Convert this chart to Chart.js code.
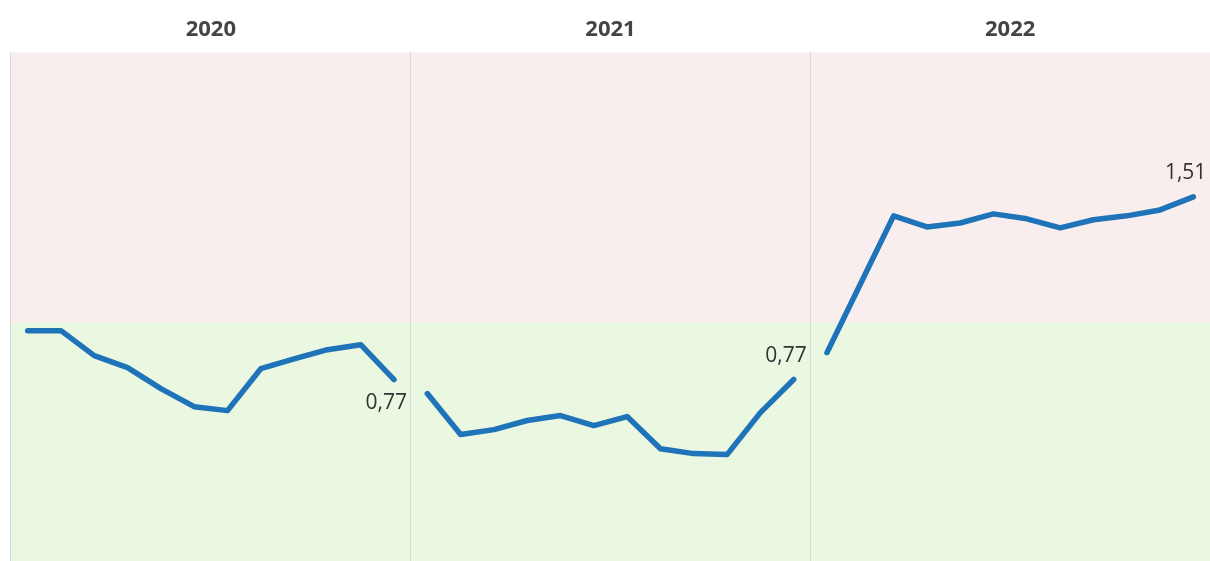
<!DOCTYPE html>
<html>
<head>
<meta charset="utf-8">
<script src="https://cdn.jsdelivr.net/npm/chart.js@4/dist/chart.umd.min.js"></script>
<style>
  html, body { margin: 0; padding: 0; background: #ffffff; }
  #wrap { width: 1210px; height: 561px; position: relative; }
</style>
</head>
<body>
<div id="wrap"><canvas id="c"></canvas></div>
<script>
const years = ['2020', '2021', '2022'];
const months = ['Jan', 'Feb', 'Mar', 'Apr', 'May', 'Jun', 'Jul', 'Aug', 'Sep', 'Oct', 'Nov', 'Dec'];
const values2020 = [0.968, 0.968, 0.867, 0.818, 0.733, 0.660, 0.644, 0.814, 0.854, 0.891, 0.911, 0.77];
const values2021 = [0.713, 0.547, 0.567, 0.604, 0.624, 0.583, 0.620, 0.490, 0.470, 0.466, 0.636, 0.77];
const values2022 = [0.879, 1.156, 1.433, 1.388, 1.404, 1.441, 1.421, 1.384, 1.417, 1.433, 1.457, 1.51];
const threshold = 1.0;

const seriesByYear = [values2020, values2021, values2022];
const labels = [];
years.forEach(y => months.forEach(m => labels.push(m + ' ' + y)));

const LINE_COLOR = '#1f73b9';
const datasets = seriesByYear.map((vals, yi) => {
  const data = new Array(labels.length).fill(null);
  vals.forEach((v, mi) => { data[yi * months.length + mi] = v; });
  return {
    label: years[yi],
    data: data,
    borderColor: LINE_COLOR,
    borderWidth: 5.5,
    pointRadius: 0,
    tension: 0,
    spanGaps: false,
    borderCapStyle: 'round',
    borderJoinStyle: 'round',
    xAxisID: 'x',
    yAxisID: 'y'
  };
});

const bandPlugin = {
  id: 'bands',
  beforeDraw(chart) {
    const {ctx, chartArea, scales} = chart;
    const yT = scales.y.getPixelForValue(threshold);
    ctx.save();
    ctx.fillStyle = '#f9eeee';
    ctx.fillRect(chartArea.left, chartArea.top, chartArea.right - chartArea.left, yT - chartArea.top);
    ctx.fillStyle = '#eaf7e1';
    ctx.fillRect(chartArea.left, yT, chartArea.right - chartArea.left, chartArea.bottom - yT);
    ctx.restore();
  }
};

const labelPlacement = ['below', 'above', 'above'];
const lastLabelPlugin = {
  id: 'lastLabels',
  afterDatasetsDraw(chart) {
    const {ctx} = chart;
    ctx.save();
    ctx.font = '21px "Segoe UI", "Open Sans", sans-serif';
    ctx.fillStyle = '#333333';
    ctx.textAlign = 'right';
    chart.data.datasets.forEach((ds, i) => {
      const meta = chart.getDatasetMeta(i);
      let idx = -1;
      ds.data.forEach((v, k) => { if (v !== null) idx = k; });
      if (idx < 0) return;
      const pt = meta.data[idx];
      const txt = ds.data[idx].toFixed(2).replace('.', ',');
      if (labelPlacement[i] === 'below') {
        ctx.textBaseline = 'top';
        ctx.fillText(txt, pt.x + 13, pt.y + 13);
      } else {
        ctx.textBaseline = 'bottom';
        ctx.fillText(txt, pt.x + 13, pt.y - 13);
      }
    });
    ctx.restore();
  }
};

new Chart(document.getElementById('c'), {
  type: 'line',
  data: { labels: labels, datasets: datasets },
  options: {
    responsive: true,
    maintainAspectRatio: false,
    animation: false,
    layout: { padding: { left: 11, right: 0, top: 8, bottom: 0 } },
    plugins: { legend: { display: false }, tooltip: { enabled: false } },
    scales: {
      x: {
        type: 'category',
        display: false,
        offset: true
      },
      x2: {
        type: 'category',
        labels: years,
        position: 'top',
        offset: true,
        border: { display: false },
        grid: { offset: true, color: '#d9d9d9', lineWidth: 1, drawTicks: false, drawOnChartArea: true },
        ticks: {
          color: '#444444',
          padding: 9,
          font: { family: '"Segoe UI", "Open Sans", sans-serif', size: 22, weight: 'bold' }
        }
      },
      y: {
        display: false,
        min: 0.035,
        max: 2.095
      }
    }
  },
  plugins: [bandPlugin, lastLabelPlugin]
});
</script>
</body>
</html>
